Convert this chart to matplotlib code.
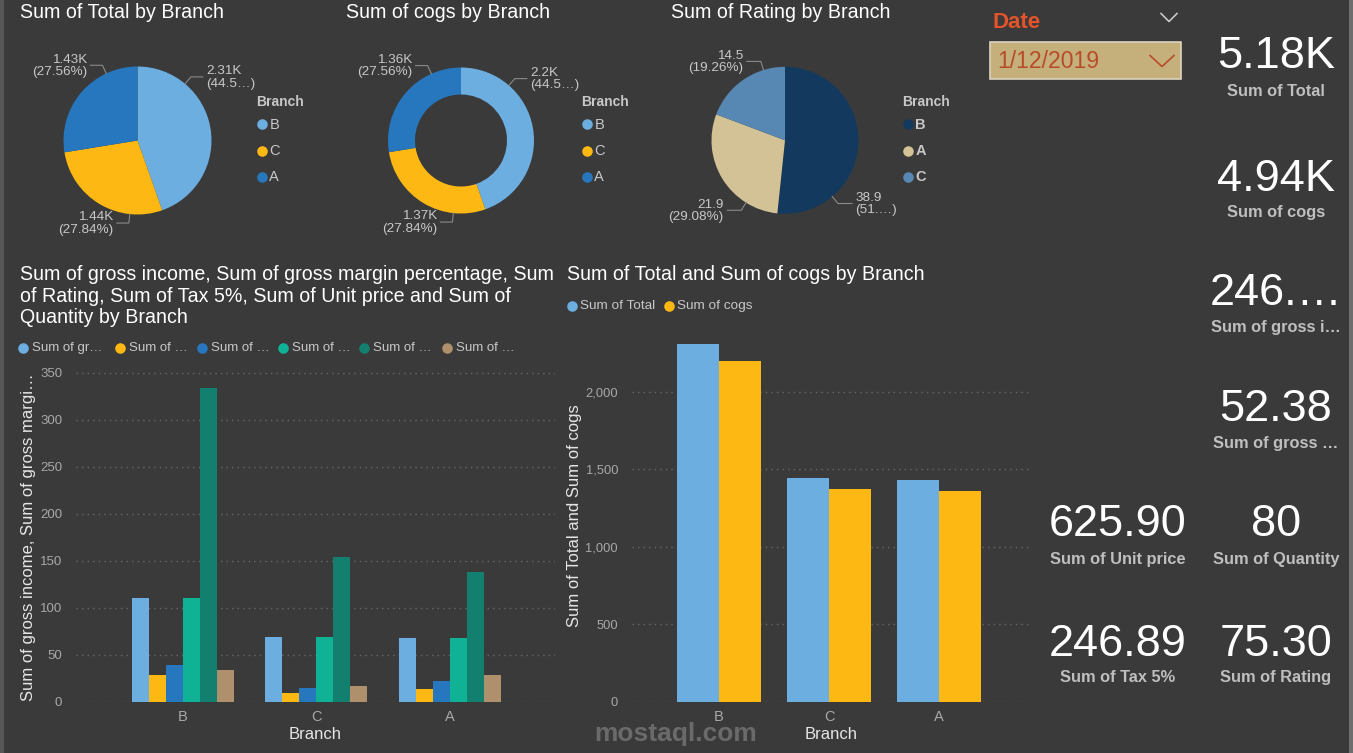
import matplotlib
matplotlib.use('Agg')
import matplotlib.pyplot as plt
from matplotlib.patches import Rectangle
from matplotlib.ticker import FuncFormatter
import numpy as np

plt.rcParams['font.family'] = ['Liberation Sans', 'DejaVu Sans']

# ---------------- data ----------------
branches = ['B', 'C', 'A']
total = [2312.0, 1443.6, 1429.1]
cogs = [2201.9, 1374.9, 1361.0]
gross_income = [110.10, 68.74, 68.05]
gross_margin_pct = [28.57, 9.52, 14.29]
rating = [38.9, 14.5, 21.9]
tax_5 = [110.10, 68.74, 68.05]
unit_price = [333.5, 154.5, 137.9]
quantity = [34, 17, 29]

rating_pie_order = ['B', 'A', 'C']
rating_pie_values = [38.9, 21.9, 14.5]

bar1_series = ['Sum of gross income', 'Sum of gross margin percentage', 'Sum of Rating',
               'Sum of Tax 5%', 'Sum of Unit price', 'Sum of Quantity']
bar2_series = ['Sum of Total', 'Sum of cogs']
date_value = '1/12/2019'

# ---------------- style ----------------
W, H = 1353, 753
BG = '#3A3A3A'
C_LB, C_YL, C_DB = '#6CAEE0', '#FDB813', '#2677BE'
C_TEAL, C_DTEAL, C_TAN = '#10B296', '#13806F', '#AE916C'
PIE3_COLORS = ['#133A5E', '#D3C295', '#5787B3']
TXT_LEG = '#C8C8C8'
TXT_TICK = '#A8A8A8'
LEADER = '#8A8A8A'
GRID = '#686868'
AXIS_TITLE = '#E6E6E6'

fig = plt.figure(figsize=(W / 100, H / 100), dpi=100, facecolor=BG)


def px_axes(left, top, width, height):
    return fig.add_axes([left / W, 1 - (top + height) / H, width / W, height / H])


def kfmt(v):
    return f"{v / 1000:.3g}K"


def trunc(s, n):
    return s if n is None or len(s) <= n else s[:n] + '\u2026'


# ---------------- pies ----------------
def draw_pie(cx, cy, r, values, colors, hole=None):
    ax = px_axes(cx - r, cy - r, 2 * r, 2 * r)
    wp = dict(linewidth=0)
    if hole:
        wp['width'] = 1 - hole
    ax.pie(values, colors=colors, startangle=90, counterclock=False, radius=1,
           wedgeprops=wp)
    ax.set_xlim(-1, 1)
    ax.set_ylim(-1, 1)
    ax.set_aspect('equal')
    ax.axis('off')


pie1_c = (137.5, 140.5, 74)
draw_pie(*pie1_c, total, [C_LB, C_YL, C_DB])
pie2_c = (461, 140.5, 73)
draw_pie(*pie2_c, cogs, [C_LB, C_YL, C_DB], hole=0.63)
pie3_c = (785, 140.3, 73.5)
draw_pie(*pie3_c, rating_pie_values, PIE3_COLORS)

# ---------------- bar chart 1 ----------------
ax1 = px_axes(76, 363.3, 479, 338.7)
ax1.set_facecolor('none')
x = np.arange(len(branches))
bw = 0.1275
series1 = [gross_income, gross_margin_pct, rating, tax_5, unit_price, quantity]
colors1 = [C_LB, C_YL, C_DB, C_TEAL, C_DTEAL, C_TAN]
for i, (vals, c) in enumerate(zip(series1, colors1)):
    ax1.bar(x + (i - 2.5) * bw, vals, width=bw, color=c, linewidth=0, zorder=3)
ax1.set_xlim(-0.80, 2.79)
ax1.set_ylim(0, 360)
ax1.set_yticks(range(0, 351, 50))
ax1.set_xticks(x)
ax1.set_xticklabels(branches)
ax1.yaxis.grid(True, color=GRID, linestyle=(0, (1, 3)), linewidth=1)
ax1.set_axisbelow(True)
for s in ax1.spines.values():
    s.set_visible(False)
ax1.tick_params(axis='y', length=0, pad=10, labelsize=9.5, labelcolor=TXT_TICK)
ax1.tick_params(axis='x', length=0, pad=6, labelsize=10.5, labelcolor=TXT_TICK)
ax1.set_xlabel('Branch', fontsize=12, color=AXIS_TITLE, labelpad=2)
ax1.set_ylabel('Sum of gross income, Sum of gross margi\u2026', fontsize=12, color=AXIS_TITLE)
ax1.yaxis.set_label_coords(-0.0835, 0.487)

# ---------------- bar chart 2 ----------------
ax2 = px_axes(632, 330.1, 398, 371.6)
ax2.set_facecolor('none')
bw2 = 0.379
for i, (vals, c) in enumerate(zip([total, cogs], [C_LB, C_YL])):
    ax2.bar(x + (i - 0.5) * bw2, vals, width=bw2, color=c, linewidth=0, zorder=3)
ax2.set_xlim(-0.791, 2.827)
ax2.set_ylim(0, 2400)
ax2.set_yticks(range(0, 2001, 500))
ax2.yaxis.set_major_formatter(FuncFormatter(lambda v, p: f"{int(v):,}"))
ax2.set_xticks(x)
ax2.set_xticklabels(branches)
ax2.yaxis.grid(True, color=GRID, linestyle=(0, (1, 3)), linewidth=1)
ax2.set_axisbelow(True)
for s in ax2.spines.values():
    s.set_visible(False)
ax2.tick_params(axis='y', length=0, pad=10, labelsize=9.3, labelcolor=TXT_TICK)
ax2.tick_params(axis='x', length=0, pad=6, labelsize=10.5, labelcolor=TXT_TICK)
ax2.set_xlabel('Branch', fontsize=12, color=AXIS_TITLE, labelpad=2)
ax2.set_ylabel('Sum of Total and Sum of cogs', fontsize=12, color=AXIS_TITLE)
ax2.yaxis.set_label_coords(-0.126, 0.50)

# ---------------- overlay ----------------
ov = fig.add_axes([0, 0, 1, 1])
ov.set_xlim(0, W)
ov.set_ylim(H, 0)
ov.axis('off')
ov.patch.set_alpha(0)

# borders
ov.add_patch(Rectangle((0, 0), 4, H, color='#575757', lw=0))
ov.add_patch(Rectangle((1349, 0), 4, H, color='#6E6E6E', lw=0))

TITLE_FS = 14.1
ov.text(20.5, 18.3, 'Sum of Total by Branch', fontsize=TITLE_FS, color='white', va='baseline')
ov.text(346, 18.3, 'Sum of cogs by Branch', fontsize=TITLE_FS, color='white', va='baseline')
ov.text(671, 18.3, 'Sum of Rating by Branch', fontsize=TITLE_FS, color='white', va='baseline')
for i, line in enumerate(['Sum of gross income, Sum of gross margin percentage, Sum',
                          'of Rating, Sum of Tax 5%, Sum of Unit price and Sum of',
                          'Quantity by Branch']):
    ov.text(20.5, 280 + i * 21.7, line, fontsize=TITLE_FS, color='white', va='baseline')
ov.text(567, 280, 'Sum of Total and Sum of cogs by Branch', fontsize=TITLE_FS,
        color='white', va='baseline')


def pie_labels(cx, cy, r, angles, vals, fmt, cuts, hlen=12):
    tot = sum(vals)
    for ang, v, cut in zip(angles, vals, cuts):
        a = np.deg2rad(ang)
        ex, ey = cx + r * np.cos(a), cy - r * np.sin(a)
        bx, by = cx + (r + 9) * np.cos(a), cy - (r + 9) * np.sin(a)
        side = 1 if np.cos(a) >= 0 else -1
        hx = bx + side * hlen
        ov.plot([ex, bx, hx], [ey, by, by], color=LEADER, lw=0.8)
        pct = trunc(f"{100 * v / tot:.2f}%", cut)
        ov.text(hx + side * 3.5, by + 0.5, f"{fmt(v)}\n({pct})", ha='left' if side > 0 else 'right',
                va='center', fontsize=9.7, color=TXT_LEG, linespacing=1.05)


pie_labels(*pie1_c, [50, 264, 115], total, kfmt, [4, None, None])
pie_labels(*pie2_c, [49, 264, 114], cogs, kfmt, [4, None, None])
pie_labels(*pie3_c, [-50, 238, 107], rating_pie_values, lambda v: f"{v:.1f}", [3, None, None], hlen=14)


def pie_legend(x0, labels, colors, bold=False):
    ov.text(x0, 106, 'Branch', fontsize=10, fontweight='bold', color=TXT_LEG, va='baseline')
    for i, (lab, c) in enumerate(zip(labels, colors)):
        y = 124.3 + i * 26.2
        ov.plot(x0 + 5.7, y, 'o', ms=7.6, color=c, mec='none')
        ov.text(x0 + 13.3, y + 0.5, lab, fontsize=10.5, color=TXT_LEG, va='center',
                fontweight='bold' if bold else 'normal')


pie_legend(256, branches, [C_LB, C_YL, C_DB])
pie_legend(581, branches, [C_LB, C_YL, C_DB])
pie_legend(902, rating_pie_order, PIE3_COLORS, bold=True)

# bar legends
leg1_x = [23.2, 120.4, 201.8, 282.9, 363.6, 447.1]
for i, (name, c, lx) in enumerate(zip(bar1_series, colors1, leg1_x)):
    ov.plot(lx, 347.5, 'o', ms=7.6, color=c, mec='none')
    ov.text(lx + 9, 348, trunc(name, 9 if i == 0 else 7), fontsize=9.5, color=TXT_LEG, va='center')
for name, c, lx in zip(bar2_series, [C_LB, C_YL], [572.3, 669.3]):
    ov.plot(lx, 305.7, 'o', ms=7.6, color=c, mec='none')
    ov.text(lx + 8, 306, name, fontsize=9.7, color=TXT_LEG, va='center')

# date slicer
ov.text(993, 27.7, 'Date', fontsize=16, fontweight='bold', color='#E5532A', va='baseline')
ov.plot([1161, 1169, 1177], [13.5, 21.5, 13.5], color='#C8C8C8', lw=1.2)
ov.add_patch(Rectangle((989.5, 41.7), 191.5, 37.3, facecolor='#C5AF7B', edgecolor='#DCD3BF', lw=1.2))
ov.text(997, 68.3, date_value, fontsize=16.6, color='#B84C2A', va='baseline')
ov.plot([1150, 1162, 1174], [55.5, 66.5, 55.5], color='#B84C2A', lw=1.2)

# KPI cards
kpis = [
    (1276, 68.3, kfmt(sum(total)), 96, 'Sum of Total'),
    (1276, 190.7, kfmt(sum(cogs)), 217, 'Sum of cogs'),
    (1276, 305, trunc(f"{sum(gross_income):.2f}", 4), 331.7, 'Sum of gross i\u2026'),
    (1276, 420.7, f"{sum(gross_margin_pct):.2f}", 447.7, 'Sum of gross \u2026'),
    (1118, 535.7, f"{sum(unit_price):.2f}", 564, 'Sum of Unit price'),
    (1276, 535.7, f"{sum(quantity)}", 564, 'Sum of Quantity'),
    (1118, 655.7, f"{sum(tax_5):.2f}", 682.3, 'Sum of Tax 5%'),
    (1276, 655.7, f"{sum(rating):.2f}", 682.3, 'Sum of Rating'),
]
for kx, ny, num, ly, lab in kpis:
    ov.text(kx, ny, num, fontsize=32.5, color='white', ha='center', va='baseline')
    ov.text(kx, ly, lab, fontsize=11.8, fontweight='bold', color='#BFBFBF', ha='center', va='baseline')

# watermark
ov.text(676, 741, 'mostaql.com', fontsize=19, fontweight='bold', color='#9A9A9A', alpha=0.5,
        ha='center', va='baseline')

fig.savefig('out.png', dpi=100, facecolor=BG)
